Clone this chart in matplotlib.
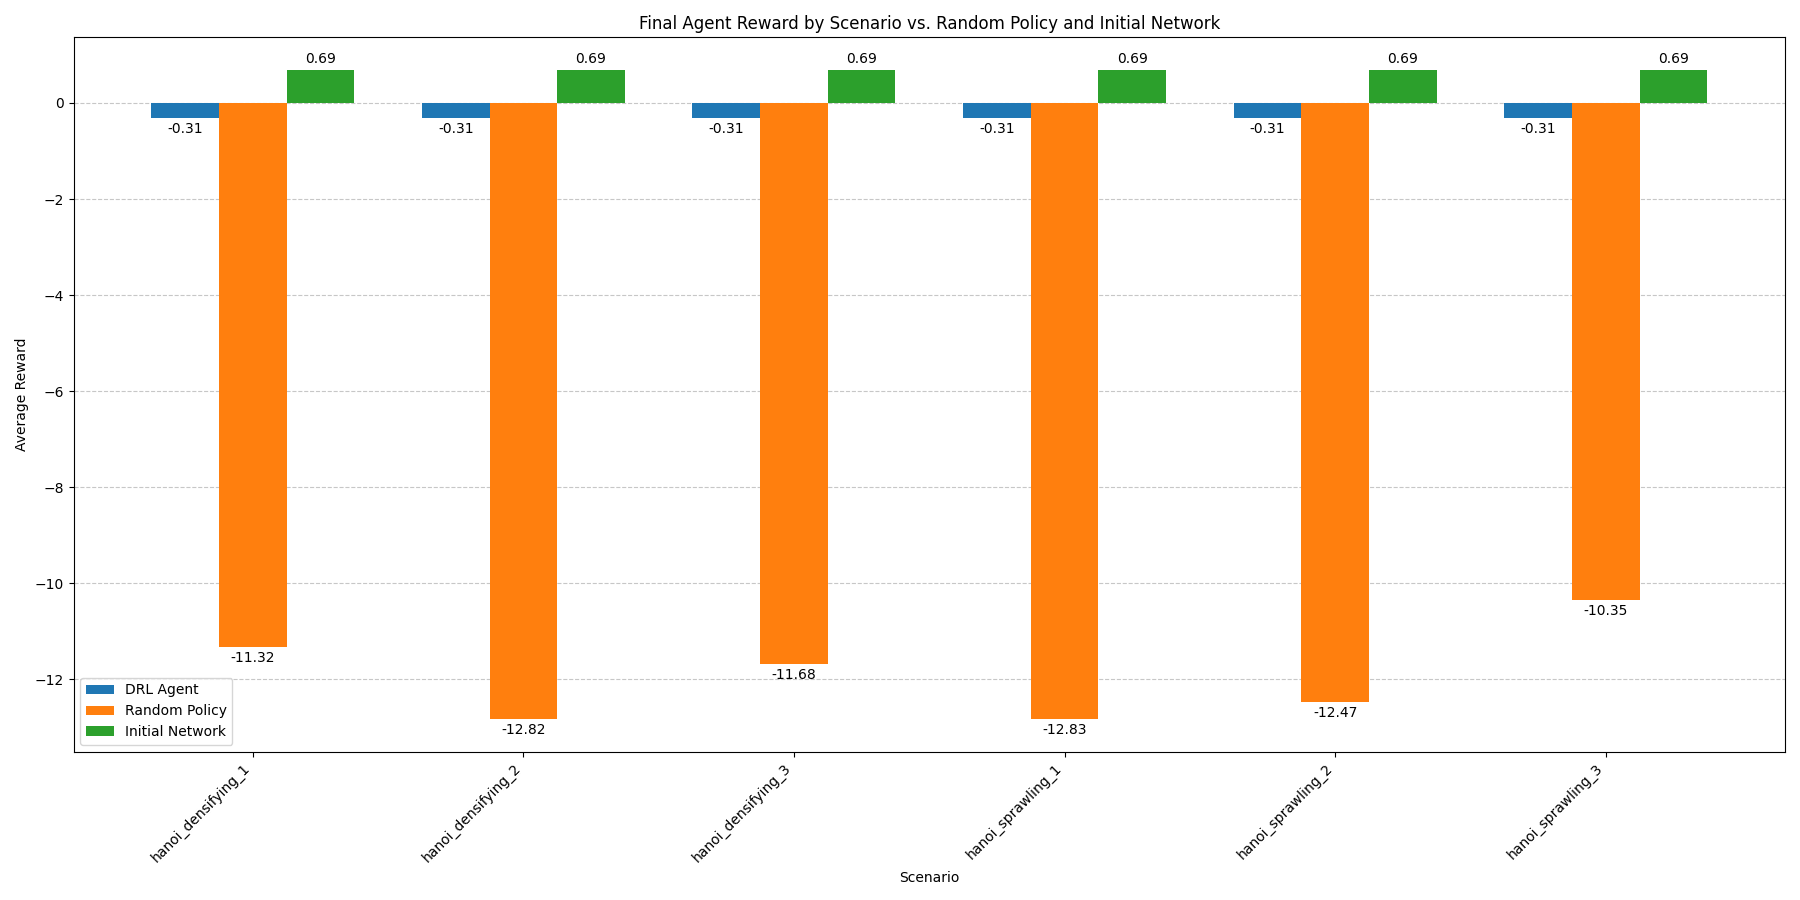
import numpy as np
import matplotlib.pyplot as plt

scenarios = ['hanoi_densifying_1', 'hanoi_densifying_2', 'hanoi_densifying_3',
             'hanoi_sprawling_1', 'hanoi_sprawling_2', 'hanoi_sprawling_3']
drl_agent = [-0.31, -0.31, -0.31, -0.31, -0.31, -0.31]
random_policy = [-11.32, -12.82, -11.68, -12.83, -12.47, -10.35]
initial_network = [0.69, 0.69, 0.69, 0.69, 0.69, 0.69]

x = np.arange(len(scenarios))
width = 0.25

fig, ax = plt.subplots(figsize=(18, 9), dpi=100)
b1 = ax.bar(x - width, drl_agent, width, label='DRL Agent')
b2 = ax.bar(x, random_policy, width, label='Random Policy')
b3 = ax.bar(x + width, initial_network, width, label='Initial Network')
for b in (b1, b2, b3):
    ax.bar_label(b, fmt='%.2f', padding=3)

ax.set_xlabel('Scenario')
ax.set_ylabel('Average Reward')
ax.set_title('Final Agent Reward by Scenario vs. Random Policy and Initial Network')
ax.set_xticks(x)
ax.set_xticklabels(scenarios, rotation=45, ha='right')
ax.legend(loc='lower left')
ax.grid(axis='y', linestyle='--', alpha=0.7)
ax.set_axisbelow(True)
fig.tight_layout()
fig.savefig('out.png')
